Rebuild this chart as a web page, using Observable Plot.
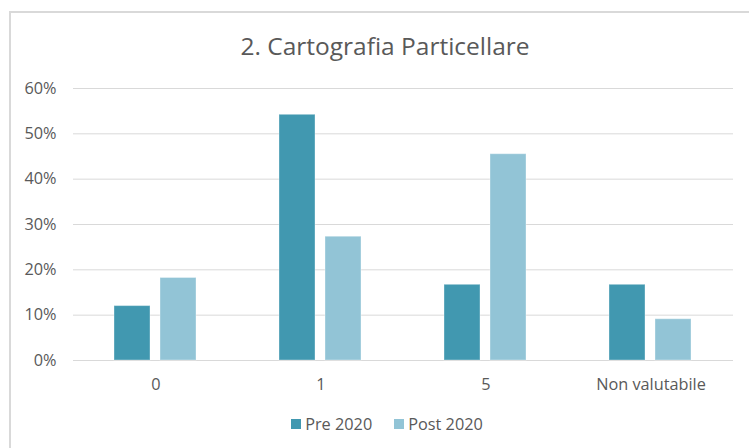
<!DOCTYPE html>
<html>
<head>
<meta charset="utf-8">
<script src="https://cdn.jsdelivr.net/npm/d3@7"></script>
<script src="https://cdn.jsdelivr.net/npm/@observablehq/plot@0.6"></script>
<style>
  html, body { margin: 0; padding: 0; background: #fff; }
  body { width: 749px; height: 448px; overflow: hidden; position: relative; font-family: "Open Sans", sans-serif; color: #595959; }
  #frame { position: absolute; left: 9px; top: 11px; width: 800px; height: 500px; border: 2px solid #d9d9d9; box-sizing: border-box; }
  #title { position: absolute; left: 10px; width: 750px; top: 28px; text-align: center; font-size: 24.5px; line-height: 36px; color: #595959; }
  #chart { position: absolute; left: 0; top: 70px; }
  #legend { position: absolute; left: 12px; width: 750px; top: 413px; display: flex; justify-content: center; gap: 22px; font-size: 16.3px; line-height: 22px; }
  .item { display: flex; align-items: center; gap: 4px; }
  .sw { width: 10px; height: 10px; display: inline-block; }
</style>
</head>
<body>
<div id="frame"></div>
<div id="title">2. Cartografia Particellare</div>
<div id="chart"></div>
<div id="legend"></div>
<script>
const categories = ["0", "1", "5", "Non valutabile"];
const series = ["Pre 2020", "Post 2020"];
const pre = [0.12, 0.542, 0.167, 0.167];
const post = [0.182, 0.273, 0.455, 0.091];
const yTicks = [0, 0.1, 0.2, 0.3, 0.4, 0.5, 0.6];
const colors = ["#4198b0", "#92c4d6"];

const data = categories.flatMap((c, i) => [
  {cat: c, s: series[0], v: pre[i]},
  {cat: c, s: series[1], v: post[i]}
]);

const chart = Plot.plot({
  width: 749,
  height: 335,
  marginLeft: 72,
  marginRight: 15,
  marginTop: 18,
  marginBottom: 45,
  style: {fontSize: "16.3px", fontFamily: "'Open Sans', sans-serif", color: "#595959", background: "transparent", overflow: "visible"},
  fx: {domain: categories, padding: 0, label: null},
  x: {domain: series, paddingInner: 0.213, paddingOuter: 0.867, axis: null},
  y: {domain: [0, 0.6], label: null},
  color: {domain: series, range: colors},
  marks: [
    Plot.gridY(yTicks, {stroke: "#d9d9d9", strokeOpacity: 1, strokeWidth: 1}),
    Plot.axisY(yTicks, {tickSize: 0, tickPadding: 17, tickFormat: d => Math.round(d * 100) + "%", label: null, fill: "#595959"}),
    Plot.axisFx({anchor: "bottom", tickSize: 0, tickPadding: 18, label: null, fill: "#595959"}),
    Plot.barY(data, {fx: "cat", x: "s", y: "v", fill: "s", stroke: "#ffffff", strokeOpacity: 0.35, strokeWidth: 1})
  ]
});
document.getElementById("chart").appendChild(chart);

const legend = document.getElementById("legend");
series.forEach((s, i) => {
  const item = document.createElement("div");
  item.className = "item";
  const sw = document.createElement("span");
  sw.className = "sw";
  sw.style.background = colors[i];
  const label = document.createElement("span");
  label.textContent = s;
  item.appendChild(sw);
  item.appendChild(label);
  legend.appendChild(item);
});
</script>
</body>
</html>
